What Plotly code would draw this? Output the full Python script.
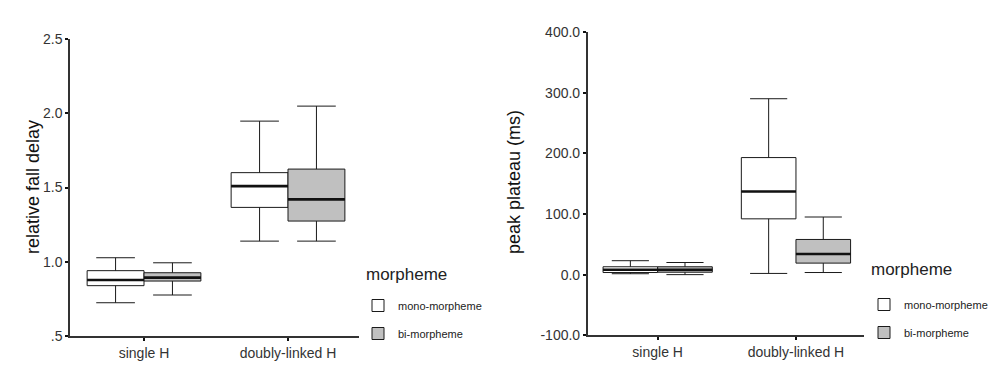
import plotly.graph_objects as go

# ---------------- data ----------------
categories = ["single H", "doubly-linked H"]
groups = ["mono-morpheme", "bi-morpheme"]

# relative fall delay (left panel)
rfd_mono_low = [0.724, 1.139]
rfd_mono_q1 = [0.839, 1.366]
rfd_mono_med = [0.877, 1.509]
rfd_mono_q3 = [0.940, 1.600]
rfd_mono_high = [1.027, 1.947]

rfd_bi_low = [0.776, 1.139]
rfd_bi_q1 = [0.870, 1.274]
rfd_bi_med = [0.893, 1.420]
rfd_bi_q3 = [0.926, 1.624]
rfd_bi_high = [0.993, 2.048]

# peak plateau in ms (right panel)
pp_mono_low = [1.5, 2.0]
pp_mono_q1 = [3.5, 92.0]
pp_mono_med = [8.0, 137.0]
pp_mono_q3 = [13.0, 193.0]
pp_mono_high = [23.0, 290.0]

pp_bi_low = [0.0, 3.5]
pp_bi_q1 = [4.0, 19.0]
pp_bi_med = [8.0, 34.0]
pp_bi_q3 = [13.0, 58.0]
pp_bi_high = [20.0, 95.0]

left_tickvals = [0.5, 1.0, 1.5, 2.0, 2.5]
left_ticktext = [".5", "1.0", "1.5", "2.0", "2.5"]
right_tickvals = [-100, 0, 100, 200, 300, 400]
right_ticktext = ["-100.0", "0.0", "100.0", "200.0", "300.0", "400.0"]

legend_title = "morpheme"
fills = {"mono-morpheme": "#ffffff", "bi-morpheme": "#c0c0c0"}
FONT = "Liberation Sans, Arial, sans-serif"

fig = go.Figure()


def add_panel(xa, ya, legend, stats):
    for name, (low, q1, med, q3, high) in zip(groups, stats):
        fig.add_trace(go.Box(
            x=categories, q1=q1, median=med, q3=q3,
            lowerfence=low, upperfence=high,
            name=name, offsetgroup=name, legendgroup=name + legend,
            fillcolor=fills[name], line=dict(color="#1a1a1a", width=1),
            whiskerwidth=0.68, boxpoints=False, hoverinfo="skip",
            xaxis=xa, yaxis=ya, legend=legend, showlegend=True,
        ))
    # thick median lines
    for name, (low, q1, med, q3, high) in zip(groups, stats):
        fig.add_trace(go.Box(
            x=categories, q1=med, median=med, q3=med,
            lowerfence=med, upperfence=med,
            name=name, offsetgroup=name,
            fillcolor="rgba(0,0,0,0)", line=dict(color="#111111", width=2.6),
            whiskerwidth=0, boxpoints=False, hoverinfo="skip",
            xaxis=xa, yaxis=ya, showlegend=False,
        ))


add_panel("x", "y", "legend", [
    (rfd_mono_low, rfd_mono_q1, rfd_mono_med, rfd_mono_q3, rfd_mono_high),
    (rfd_bi_low, rfd_bi_q1, rfd_bi_med, rfd_bi_q3, rfd_bi_high),
])
add_panel("x2", "y2", "legend2", [
    (pp_mono_low, pp_mono_q1, pp_mono_med, pp_mono_q3, pp_mono_high),
    (pp_bi_low, pp_bi_q1, pp_bi_med, pp_bi_q3, pp_bi_high),
])

W, H = 996, 371   # page body margin of 8px takes the rest of the window
OFF = 8


def fx(px):
    return (px - OFF) / W


def fy(py):
    return 1 - (py - OFF) / H


axis_common = dict(
    showline=True, linecolor="#333333", linewidth=1.5,
    ticks="outside", ticklen=3, tickcolor="#111111", tickwidth=2,
    showgrid=False, zeroline=False,
    tickfont=dict(family=FONT, size=14, color="#333333"),
)

legend_common = dict(
    font=dict(family=FONT, size=11, color="#222222"),
    bgcolor="rgba(0,0,0,0)", traceorder="grouped", tracegroupgap=9,
    xanchor="left", yanchor="top", itemwidth=30,
)
legend_title_font = dict(family=FONT, size=17, color="#222222")

fig.update_layout(
    width=W, height=H, margin=dict(l=0, r=0, t=0, b=0, autoexpand=False),
    plot_bgcolor="white", paper_bgcolor="white",
    boxmode="group", boxgap=0.21, boxgroupgap=0,
    xaxis=dict(domain=[fx(70), fx(359)], range=[-0.514, 1.493],
               type="category", anchor="y", **axis_common),
    yaxis=dict(domain=[fy(336), fy(39)], range=[0.5, 2.5],
               tickvals=left_tickvals, ticktext=left_ticktext,
               anchor="x", **axis_common),
    xaxis2=dict(domain=[fx(587.7), fx(864)], range=[-0.506, 1.492],
                type="category", anchor="y2", **axis_common),
    yaxis2=dict(domain=[fy(335.3), fy(32)], range=[-100, 400],
                tickvals=right_tickvals, ticktext=right_ticktext,
                anchor="x2", **axis_common),
    legend=dict(x=fx(358), y=fy(291), **legend_common),
    legend2=dict(x=fx(864), y=fy(290), **legend_common),
    annotations=[
        dict(text="relative fall delay", textangle=-90, x=fx(21), y=fy(187),
             xref="paper", yref="paper", showarrow=False,
             font=dict(family=FONT, size=18, color="#111111")),
        dict(text="peak plateau (ms)", textangle=-90, x=fx(514), y=fy(182),
             xref="paper", yref="paper", showarrow=False,
             font=dict(family=FONT, size=18, color="#111111")),
        dict(text=legend_title, x=fx(364), y=fy(274), xanchor="left", yanchor="middle",
             xref="paper", yref="paper", showarrow=False, font=legend_title_font),
        dict(text=legend_title, x=fx(869), y=fy(269), xanchor="left", yanchor="middle",
             xref="paper", yref="paper", showarrow=False, font=legend_title_font),
    ],
)

fig.write_html("out.html")
